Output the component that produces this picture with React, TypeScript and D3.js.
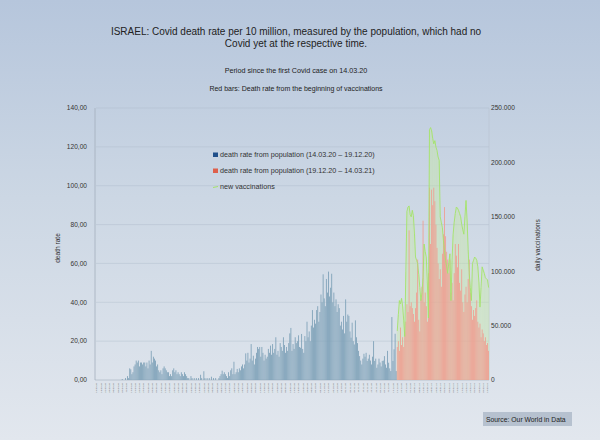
import { useRef, useEffect } from 'react';
import * as d3 from 'd3';

// daily values
const firstDay = new Date(2020, 2, 14);

// death rate per 10 million, 14.03.20 – 18.12.20 (blue)
const blueRates = [
  0, 0, 0, 0, 0, 0, 0, 0, 0, 0,
  0, 0, 0, 0, 0, 0, 0, 0, 0, 0,
  0, 0, 0, 0, 0.5, 0, 0, 1, 0, 2,
  1, 6, 5.5, 3, 4, 7, 8, 10, 9, 10,
  7, 9, 9, 8, 9, 9, 7, 9, 6, 10,
  8, 15, 9, 12, 11, 10, 7, 8, 5, 4,
  5, 3, 6, 7, 6, 5, 4, 4, 2, 3,
  2, 5, 6, 4, 5, 3, 4, 3, 2, 4,
  3, 2, 4, 3, 2, 1, 1, 0, 2, 1,
  0, 1, 0, 1, 0, 1, 0, 2.7, 1, 0,
  4.5, 1, 0, 1, 0, 1, 0, 1.7, 0, 1,
  0, 1, 0, 0, 1, 2, 3, 4.8, 3, 4,
  3, 2, 1, 4, 2, 5, 6, 3, 9.4, 3,
  4, 5.7, 4, 6, 5, 7, 8, 6, 8, 13.7,
  10, 14, 9, 11, 18.5, 10, 12.5, 8, 11, 14,
  17, 16, 17, 12, 17, 14, 10, 13, 11, 12,
  16, 14, 17.7, 13, 18.5, 14, 16, 22, 13, 15,
  12, 19, 17, 15, 22, 18, 14, 17, 15, 19,
  24, 26.8, 15, 18.5, 16, 22, 19, 20, 23, 17,
  16.6, 23.7, 16, 14, 22.6, 20, 30, 22, 25, 20,
  28, 36, 27, 31, 29, 36, 38, 30, 35, 44,
  40, 54.4, 42, 38, 52, 45, 55.8, 43, 47.5, 54.7,
  40, 45, 38, 41.5, 35, 39, 37, 28, 30, 26,
  33, 24, 41.5, 30, 33.7, 33, 25, 21.8, 29.5, 20,
  18.3, 30.7, 22, 19, 15, 12.3, 10, 8, 11, 13.5,
  12, 14, 9.8, 11, 13, 10, 8, 12, 20, 9.8,
  11, 6.3, 8, 11, 9, 7, 9.8, 10, 12.3, 8,
  6.3, 15, 8.9, 6, 4.6, 32.4, 9.8, 15.8, 23.8, 4.6,
];

// death rate per 10 million, 19.12.20 – 14.03.21 (red)
const redRates = [
  17, 20, 15, 27, 18, 22, 17, 25, 30, 39,
  35, 77, 38, 40, 37, 34, 30, 37, 45, 62,
  31, 25, 42, 48, 82, 40, 45, 38, 30, 55,
  99, 70, 98, 90, 99, 92, 80, 68, 60, 52,
  57, 48, 65, 75, 89, 74, 66, 62, 55, 62,
  45, 50, 41, 55, 70, 64, 58, 70, 50, 46,
  57, 40, 35, 44, 48, 40, 52, 62, 45, 38,
  31, 36, 33, 37, 41, 30, 27, 29, 22, 26,
  24, 20, 22, 18, 19, 15,
];

// new vaccinations per day, same days as redRates
const vaccinations = [
  45000, 60000, 73000, 70000, 75000, 68000, 55000, 40000, 100000, 155000,
  159000, 160000, 152000, 150000, 156000, 151000, 135000, 113000, 110000, 107000,
  97000, 85000, 73000, 80000, 94000, 125000, 118000, 113000, 90000, 57000,
  230000, 232000, 229000, 222000, 217000, 220000, 214000, 211000, 205000, 202000,
  150000, 145000, 140000, 128000, 119000, 110000, 104000, 98000, 108000, 116000,
  73000, 110000, 134000, 145000, 153000, 159000, 158000, 156000, 153000, 150000,
  143000, 138000, 134000, 150000, 165000, 147000, 120000, 98000, 85000, 73000,
  107000, 110000, 113000, 112000, 110000, 104000, 90000, 67000, 85000, 104000,
  101000, 98000, 94000, 93000, 92000, 85000,
];

const rateTicks = [0, 20, 40, 60, 80, 100, 120, 140];
const vaccTicks = [0, 50000, 100000, 150000, 200000, 250000];

const legendLabels = [
  'death rate from population  (14.03.20 – 19.12.20)',
  'death rate from population (19.12.20 – 14.03.21)',
  'new vaccinations',
];

const FONT = '"Liberation Sans", Arial, sans-serif';

export default function App() {
  const svgRef = useRef<SVGSVGElement>(null);

  useEffect(() => {
    if (!svgRef.current) return;
    const svg = d3.select(svgRef.current);
    svg.selectAll('*').remove();

    const left = 96;
    const right = 489;
    const top = 108;
    const bottom = 380;

    const days = blueRates.length + redRates.length;
    const data = d3.range(days).map((i) => ({
      i,
      date: d3.timeDay.offset(firstDay, i),
      rate: i < blueRates.length ? blueRates[i] : redRates[i - blueRates.length],
      red: i >= blueRates.length,
    }));

    const x = d3
      .scaleBand<number>()
      .domain(data.map((d) => d.i))
      .range([left, right])
      .paddingInner(0.22);
    const y = d3.scaleLinear().domain([0, 140]).range([bottom, top]);
    const yv = d3.scaleLinear().domain([0, 250000]).range([bottom, top]);

    // background
    const grad = svg
      .append('defs')
      .append('linearGradient')
      .attr('id', 'bg')
      .attr('x1', 0)
      .attr('y1', 0)
      .attr('x2', 0)
      .attr('y2', 1);
    grad.append('stop').attr('offset', '0%').attr('stop-color', '#b6c6dc');
    grad.append('stop').attr('offset', '45%').attr('stop-color', '#ccd7e4');
    grad.append('stop').attr('offset', '100%').attr('stop-color', '#e2e7ee');
    svg.append('rect').attr('width', 600).attr('height', 440).attr('fill', 'url(#bg)');

    // titles
    const titles = [
      { t: 'ISRAEL: Covid death rate per 10 million, measured by the population, which had no', y: 35, s: 10 },
      { t: 'Covid yet at the respective time.', y: 46.5, s: 10 },
      { t: 'Period since the first Covid case on 14.03.20', y: 73, s: 7.2 },
      { t: 'Red bars: Death rate from the beginning of vaccinations', y: 91, s: 7 },
    ];
    svg
      .selectAll('.title')
      .data(titles)
      .enter()
      .append('text')
      .attr('x', 296)
      .attr('y', (d) => d.y)
      .attr('text-anchor', 'middle')
      .attr('font-family', FONT)
      .attr('font-size', (d) => d.s)
      .attr('fill', '#222')
      .text((d) => d.t);

    // grid
    svg
      .selectAll('.grid')
      .data(rateTicks.slice(1))
      .enter()
      .append('line')
      .attr('x1', left)
      .attr('x2', right)
      .attr('y1', (d) => y(d))
      .attr('y2', (d) => y(d))
      .attr('stroke', '#a9b6c6')
      .attr('stroke-opacity', 0.45)
      .attr('stroke-width', 0.8);

    svg.append('line').attr('x1', left - 1).attr('x2', left - 1).attr('y1', top).attr('y2', bottom)
      .attr('stroke', '#a3afbd').attr('stroke-width', 0.8);
    svg.append('line').attr('x1', right).attr('x2', right).attr('y1', top).attr('y2', bottom)
      .attr('stroke', '#b8c3d0').attr('stroke-width', 0.6);
    svg.append('line').attr('x1', left - 1).attr('x2', right).attr('y1', bottom).attr('y2', bottom)
      .attr('stroke', '#a3afbd').attr('stroke-width', 0.6);

    // left ticks
    svg
      .selectAll('.lt')
      .data(rateTicks)
      .enter()
      .append('text')
      .attr('x', 87)
      .attr('y', (d) => y(d) + 2.3)
      .attr('text-anchor', 'end')
      .attr('font-family', FONT)
      .attr('font-size', 6.6)
      .attr('fill', '#333')
      .text((d) => d.toFixed(2).replace('.', ','));

    // right ticks
    svg
      .selectAll('.rt')
      .data(vaccTicks)
      .enter()
      .append('text')
      .attr('x', 491)
      .attr('y', (d) => yv(d) + 2.3)
      .attr('font-family', FONT)
      .attr('font-size', 6.6)
      .attr('fill', '#333')
      .text((d) => d3.format(',')(d).replace(/,/g, '.'));

    // axis titles
    svg.append('text')
      .attr('transform', `translate(60,248) rotate(-90)`)
      .attr('text-anchor', 'middle')
      .attr('font-family', FONT)
      .attr('font-size', 6.6)
      .attr('fill', '#333')
      .text('death rate');
    svg.append('text')
      .attr('transform', `translate(540,245) rotate(-90)`)
      .attr('text-anchor', 'middle')
      .attr('font-family', FONT)
      .attr('font-size', 6.6)
      .attr('fill', '#333')
      .text('daily vaccinations');

    // vaccinations: faint green columns behind the bars
    const vdata = vaccinations.map((v, k) => ({ i: blueRates.length + k, v }));
    svg
      .selectAll('.vbar')
      .data(vdata)
      .enter()
      .append('rect')
      .attr('x', (d) => x(d.i)! - 0.2)
      .attr('y', (d) => yv(d.v))
      .attr('width', x.step() + 0.4)
      .attr('height', (d) => bottom - yv(d.v))
      .attr('fill', '#c8eba0')
      .attr('fill-opacity', 0.3);

    // bars
    svg
      .selectAll('.bar')
      .data(data)
      .enter()
      .append('rect')
      .attr('x', (d) => x(d.i)!)
      .attr('y', (d) => y(d.rate))
      .attr('width', x.bandwidth())
      .attr('height', (d) => bottom - y(d.rate))
      .attr('fill', (d) => (d.red ? '#f09d90' : '#7b9fb6'));

    // vaccinations line
    const line = d3
      .line<{ i: number; v: number }>()
      .x((d) => x(d.i)! + x.bandwidth() / 2)
      .y((d) => yv(d.v));
    svg
      .append('path')
      .datum(vdata)
      .attr('d', line)
      .attr('fill', 'none')
      .attr('stroke', '#a4e36a')
      .attr('stroke-width', 1)
      .attr('stroke-opacity', 0.9);

    // date labels
    const fmt = d3.timeFormat('%d.%m.%y');
    svg
      .selectAll('.xl')
      .data(data.filter((d) => d.i % 4 === 0))
      .enter()
      .append('text')
      .attr('transform', (d) => `translate(${x(d.i)! + x.bandwidth() / 2 + 0.8},383) rotate(-90)`)
      .attr('text-anchor', 'end')
      .attr('font-family', FONT)
      .attr('font-size', 2.5)
      .attr('fill', '#666')
      .text((d) => fmt(d.date));

    // legend
    const legendColors = ['#1f4f8a', '#de604c', '#a4e36a'];
    const lg = svg
      .selectAll('.lg')
      .data(legendLabels)
      .enter()
      .append('g')
      .attr('transform', (_, k) => `translate(213,${157 + k * 16})`);
    lg.filter((_, k) => k < 2)
      .append('rect')
      .attr('x', 0)
      .attr('y', -4.5)
      .attr('width', 5)
      .attr('height', 4.5)
      .attr('fill', (_, k) => legendColors[k]);
    lg.filter((_, k) => k === 2)
      .append('line')
      .attr('x1', 0)
      .attr('x2', 5)
      .attr('y1', -1.5)
      .attr('y2', -2.5)
      .attr('stroke', legendColors[2])
      .attr('stroke-width', 1);
    lg.append('text')
      .attr('x', 7)
      .attr('y', 0)
      .attr('font-family', FONT)
      .attr('font-size', 7.2)
      .attr('fill', '#333')
      .text((d) => d);

    // source box
    svg.append('rect').attr('x', 483).attr('y', 412).attr('width', 89).attr('height', 14).attr('fill', '#b6c1cf');
    svg.append('text')
      .attr('x', 486)
      .attr('y', 421.5)
      .attr('font-family', FONT)
      .attr('font-size', 6.8)
      .attr('fill', '#222')
      .text('Source: Our World in Data');
  }, []);

  return (
    <div style={{ position: 'fixed', left: 0, top: 0 }}>
      <svg ref={svgRef} width={600} height={440} style={{ display: 'block' }} />
    </div>
  );
}
